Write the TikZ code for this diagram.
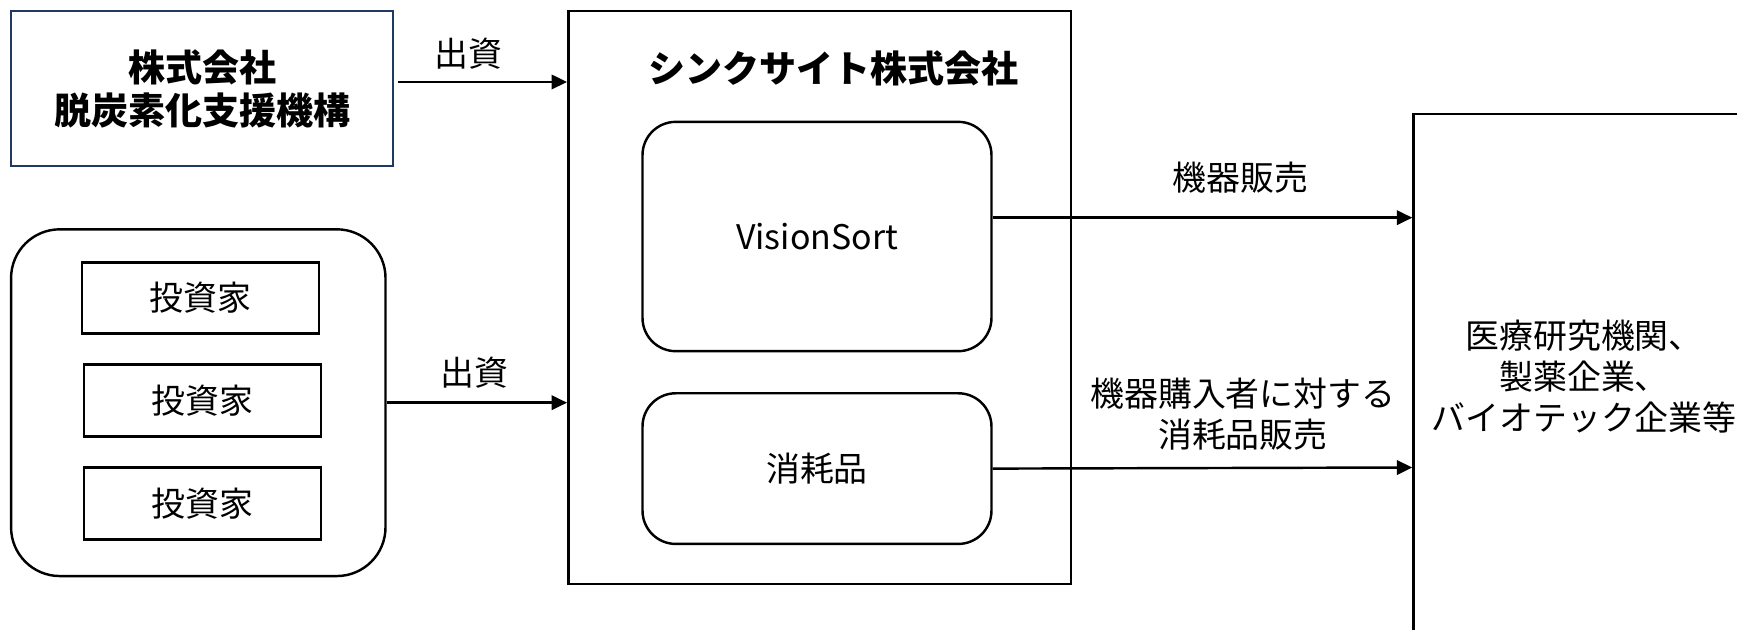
\documentclass[tikz,border=0pt]{standalone}
\usepackage{fontspec}
\setmainfont{Noto Sans CJK JP}
\usetikzlibrary{arrows.meta}
\definecolor{navy}{RGB}{32,56,100}
\tikzset{
  ln/.style={line width=1.1pt},
  box/.style={ln, draw=black, fill=white, align=center, inner sep=0pt},
  txt/.style={font=\fontsize{15.3}{18.5}\selectfont, align=center, inner sep=0pt},
  boldtxt/.style={font=\fontsize{16.7}{19.5}\selectfont\bfseries, align=center, inner sep=0pt},
  arr/.style={ln, -{Triangle[length=7pt,width=6.5pt]}},
}
\begin{document}
\begin{tikzpicture}[x=0.5pt,y=-0.5pt]
\useasboundingbox (0,0) rectangle (1568,568);
\clip (0,0) rectangle (1568,568);
\fill[white] (0,0) rectangle (1568,568);

% left top organisation
\node[box, draw=navy, minimum width=172.5pt, minimum height=70pt, boldtxt] (dbj) at (182.5,80) {株式会社\\脱炭素化支援機構};

% investors group
\node[box, rounded corners=22pt, minimum width=169pt, minimum height=156.5pt] (inv) at (179,363.5) {};
\node[box, minimum width=107pt, minimum height=32pt, txt] (inv1) at (181,269) {投資家};
\node[box, minimum width=107pt, minimum height=32.5pt, txt] (inv2) at (183,361.5) {投資家};
\node[box, minimum width=107pt, minimum height=32.5pt, txt] (inv3) at (183,454.5) {投資家};

% company
\node[box, minimum width=227pt, minimum height=258.5pt] (comp) at (740,268.5) {};
\node[boldtxt] (title) at (752,62) {シンクサイト株式会社};
\node[box, rounded corners=15pt, minimum width=157.5pt, minimum height=103.5pt, txt] (vs) at (737.5,213.5) {VisionSort};
\node[box, rounded corners=15pt, minimum width=157.5pt, minimum height=68pt, txt] (cons) at (737.5,423) {消耗品};

% customers
\node[box, minimum width=154pt, minimum height=236pt, txt, text depth=0pt] (cust) at (1430,339) {医療研究機関、\\製薬企業、\\バイオテック企業等};

% arrows
\draw[arr] ([xshift=1.5pt,yshift=3pt]dbj.east) -- ([yshift=3pt]dbj.east -| comp.west) coordinate (a1);
\draw[arr] (inv.east) -- (inv.east -| comp.west);
\draw[arr] ([yshift=8.5pt]vs.east) -- ([yshift=8.5pt]vs.east -| cust.west);
\draw[arr] ([yshift=0pt]cons.east) -- ([yshift=0.5pt]cons.east -| cust.west);

% labels
\node[txt] (l1) at (423,48) {出資};
\node[txt] (l2) at (428,336) {出資};
\node[txt] (l3) at (1120,160) {機器販売};
\node[txt] (l4) at (1122,374) {機器購入者に対する\\消耗品販売};
\end{tikzpicture}
\end{document}
